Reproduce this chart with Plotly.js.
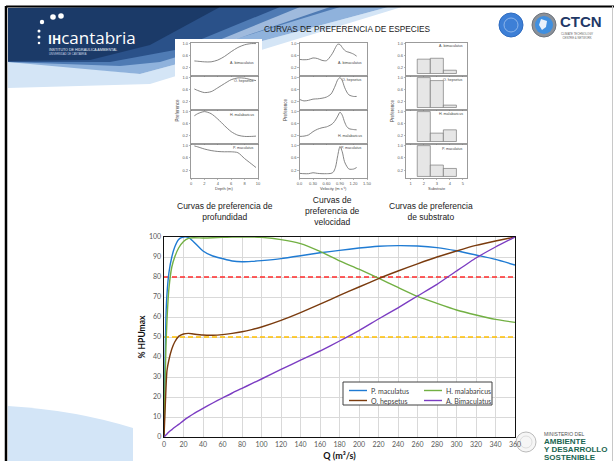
<!DOCTYPE html>
<html><head><meta charset="utf-8">
<script src="https://cdn.plot.ly/plotly-3.0.1.min.js"></script>
<style>html,body{margin:0;padding:0;background:#fff}#chart{width:614px;height:461px}</style>
</head><body><div id="chart"></div><script>
// ---------- main chart data ----------
const mainQ = [0,1,2,3,5,8,11,15,20,25,30,40,50,60,70,80,90,100,120,140,160,180,200,220,240,260,280,300,320,340,360];
const seriesNames = ['P. maculatus','H. malabaricus','O. hepsetus','A. Bimaculatus'];
const seriesColors = ['#1f7bd3','#72b043','#7a3b0e','#7b3cc2'];
const pMaculatus = [0,35,60,71,82,90,95,98.8,100,99.8,97.8,93,90.5,89.2,88,87.6,87.8,88.2,89.2,90.6,92.1,93.3,94.5,95.4,95.7,95.5,94.7,93.1,91,88.8,86];
const hMalabaricus = [0,25,45,58,74,85,90,94.5,97.8,99.3,99.6,99.5,99.6,99.8,100,100,100,99.8,98.7,96.7,92.8,88.1,83.9,79.4,74.8,70.3,66.8,63.5,61,58.8,57.3];
const oHepsetus = [0,12,24,33,38.5,44,47.5,50.3,51.5,51.8,51.5,51,50.9,51.2,51.8,52.6,53.7,55,58.3,62.2,66.4,70.8,75,79.2,83,86.6,90,93,95.8,98,100];
const aBimaculatus = [0,0.5,1,1.5,2.5,3.7,4.9,6.3,8.2,9.9,11.5,14.3,17,19.5,22,24.3,26.7,29,33.8,38.4,43,48,53.2,59,64.6,70.5,76.3,83,89.5,95,100];
const thresholdQ = [0,360];
const threshold80 = [80,80];
const threshold50 = [50,50];
const mainXTicks = [0,20,40,60,80,100,120,140,160,180,200,220,240,260,280,300,320,340,360];

// ---------- preference-curve panels data ----------
const panelSpecies = ['A. bimaculatus','O. hepsetus','H. malabaricus','P. maculatus'];
const depthX = [0.5,1,2,3,4,5,6,7,8,9,9.7];
const depthAbim = [0.42,0.41,0.39,0.39,0.45,0.57,0.73,0.87,0.96,1.0,1.0];
const depthOhep = [0.62,0.57,0.5,0.53,0.66,0.8,0.93,0.99,0.98,0.93,0.9];
const depthHmal = [0.86,0.93,1.0,0.93,0.75,0.53,0.33,0.21,0.17,0.17,0.18];
const depthPmac = [0.99,0.96,0.89,0.84,0.81,0.8,0.8,0.77,0.58,0.41,0.29];
const velX = [0,0.1,0.2,0.3,0.4,0.5,0.6,0.7,0.75,0.8,0.85,0.9,0.95,1.0,1.05,1.1,1.2,1.27];
const velAbim = [0.47,0.46,0.47,0.52,0.5,0.44,0.43,0.6,0.72,0.87,0.98,0.97,0.87,0.78,0.73,0.71,0.65,0.58];
const velOhep = [0.27,0.22,0.24,0.28,0.29,0.31,0.35,0.45,0.58,0.75,0.93,1.0,0.9,0.68,0.52,0.42,0.37,0.37];
const velHmal = [0.17,0.18,0.22,0.33,0.41,0.46,0.49,0.56,0.62,0.72,0.85,0.98,0.88,0.66,0.5,0.43,0.4,0.39];
const velPmac = [0.1,0.09,0.09,0.12,0.1,0.09,0.09,0.1,0.14,0.3,0.68,0.97,0.8,0.48,0.33,0.24,0.24,0.29];
const subX = [2,3,4];
const subAbim = [0.48,0.51,0.11];
const subOhep = [1.0,0.9,0.08];
const subHmal = [1.0,0.28,0.39];
const subPmac = [1.0,0.37,0.26];
const depthTicks = [0,2,4,6,8,10];
const velTicks = [0,0.3,0.6,0.9,1.2,1.5];
const velTickText = ['0.0','0.30','0.60','0.90','1.20','1.50'];
const subTicks = [1,2,3,4,5];
const prefTicks = [0.2,0.6,1.0];
const prefTickText = ['0.2','0.6','1.0'];

// ---------- helpers ----------
const W = 614, H = 461;
const px = x => x / W, py = y => 1 - y / H;
const pth = pts => pts.map((p,i)=>(i?'L':'M')+px(p[0]).toFixed(5)+','+py(p[1]).toFixed(5)).join(' ')+' Z';

const traces = [];
const mainData = [pMaculatus,hMalabaricus,oHepsetus,aBimaculatus];
traces.push({x:thresholdQ,y:threshold80,mode:'lines',line:{color:'#ff2b2b',width:1.5,dash:'5px,3px'},hoverinfo:'skip',showlegend:false});
traces.push({x:thresholdQ,y:threshold50,mode:'lines',line:{color:'#ffc000',width:1.5,dash:'5px,3px'},hoverinfo:'skip',showlegend:false});
mainData.forEach((d,i)=>traces.push({x:mainQ,y:d,name:seriesNames[i],mode:'lines',
  line:{color:seriesColors[i],width:1.4,shape:'spline',smoothing:0.5},showlegend:false}));

const layout = {
  width:W,height:H,margin:{l:0,r:0,t:0,b:0},paper_bgcolor:'#fff',plot_bgcolor:'rgba(0,0,0,0)',
  showlegend:false,font:{family:'Lato, "Liberation Sans", sans-serif'},
  xaxis:{domain:[px(164),px(515)],range:[0,360],tickvals:mainXTicks,showgrid:true,gridcolor:'#d9d9d9',gridwidth:1,
    showline:true,linecolor:'#111',linewidth:1.2,mirror:true,zeroline:false,ticks:'',
    tickfont:{size:7,color:'#595959'},anchor:'y',
    title:{text:'<b>Q (m³/s)</b>',font:{size:9,color:'#111'},standoff:8}},
  yaxis:{domain:[py(437),py(237)],range:[0,100],dtick:10,showgrid:true,gridcolor:'#d9d9d9',gridwidth:1,
    showline:true,linecolor:'#111',linewidth:1.4,mirror:true,zeroline:false,ticks:'',
    tickfont:{size:7,color:'#595959'},anchor:'x',
    title:{text:'<b>% HPUmax</b>',font:{size:8.5,color:'#111'},standoff:2}},
  shapes:[],annotations:[]
};

// ---------- slide decorations (drawn first, below everything) ----------
const S = layout.shapes;
const bg = (path,color,op) => S.push({type:'path',xref:'paper',yref:'paper',layer:'below',path:path,fillcolor:color,opacity:op||1,line:{width:0}});
// pale band under header
bg(pth([[8,60],[140,74],[392,6],[405,6],[150,84],[8,88]]),'#d4e5f6');
// header gradient pieces
bg(pth([[8,8],[392,6],[140,74],[8,62]]),'#8fb2dc');
bg(pth([[8,8],[340,7],[160,62],[120,66],[8,62]]),'#4f7bb4');
bg(pth([[8,8],[280,7],[175,50],[110,62],[8,62]]),'#2a5189');
bg(pth([[8,8],[220,7],[150,45],[90,60],[8,61]]),'#1b3a68');
bg(pth([[300,7],[330,7],[190,55],[175,58]]),'#c2d6ee',0.7);
// bottom-left swoosh
bg('M '+px(8)+','+py(406)+' Q '+px(75)+','+py(410)+' '+px(133)+','+py(428)+' L '+px(133)+','+py(461)+' L '+px(8)+','+py(461)+' Z','#d3e5f7');
// white backgrounds of the pasted figures
S.push({type:'rect',xref:'paper',yref:'paper',layer:'below',x0:px(175),x1:px(262),y0:py(190),y1:py(39),fillcolor:'#fff',line:{width:0}});
S.push({type:'rect',xref:'paper',yref:'paper',layer:'below',x0:px(133),x1:px(522),y0:py(461),y1:py(228),fillcolor:'#fff',line:{width:0}});
// ministry seal (below the chart text)
S.push({type:'circle',xref:'paper',yref:'paper',layer:'below',x0:px(516),x1:px(536),y0:py(452),y1:py(432),fillcolor:'#f6f6f6',line:{color:'#bbb',width:1}});
S.push({type:'circle',xref:'paper',yref:'paper',layer:'below',x0:px(520),x1:px(532),y0:py(448),y1:py(436),fillcolor:'rgba(0,0,0,0)',line:{color:'#ccc',width:0.6}});
// borders
S.push({type:'line',xref:'paper',yref:'paper',x0:px(6),x1:px(6),y0:py(6),y1:py(461),line:{color:'#000',width:2.5}});
S.push({type:'line',xref:'paper',yref:'paper',x0:px(6),x1:px(614),y0:py(6.5),y1:py(6.5),line:{color:'#000',width:2}});
S.push({type:'line',xref:'paper',yref:'paper',x0:px(612.5),x1:px(612.5),y0:py(6),y1:py(461),line:{color:'#c8c8c8',width:1}});

// panels
const colX = [[191,258],[299.5,367],[406,467]];
const rowY = [[43,75],[77,109],[111,143],[145,178]];
const colData = [[depthAbim,depthOhep,depthHmal,depthPmac],[velAbim,velOhep,velHmal,velPmac],[subAbim,subOhep,subHmal,subPmac]];
const colXs = [depthX,velX,subX];
const colRange = [[0,10],[0,1.5],[0.64,5.31]];
const colTicks = [[depthTicks,depthTicks.map(String)],[velTicks,velTickText],[subTicks,subTicks.map(String)]];
for(let c=0;c<3;c++){
  for(let r=0;r<4;r++){
    const idx = 2 + c*4 + r;
    layout['xaxis'+idx] = {domain:[px(colX[c][0]),px(colX[c][1])],anchor:'y'+idx,range:colRange[c],
      showline:true,mirror:true,linecolor:'#707070',linewidth:0.7,showgrid:false,zeroline:false,
      ticks:'outside',ticklen:1.5,tickwidth:0.5,tickcolor:'#707070',
      tickvals:colTicks[c][0],ticktext:colTicks[c][1],showticklabels:r===3,tickfont:{size:4,color:'#555',family:'Liberation Sans'}};
    layout['yaxis'+idx] = {domain:[py(rowY[r][1]),py(rowY[r][0])],anchor:'x'+idx,range:[-0.05,1.02],
      showline:true,mirror:true,linecolor:'#707070',linewidth:0.7,showgrid:false,zeroline:false,
      ticks:'outside',ticklen:1.5,tickwidth:0.5,tickcolor:'#707070',
      tickvals:prefTicks,ticktext:prefTickText,tickfont:{size:4,color:'#555',family:'Liberation Sans'}};
    if(c<2){
      traces.push({x:colXs[c],y:colData[c][r],xaxis:'x'+idx,yaxis:'y'+idx,mode:'lines',
        line:{color:'#777',width:0.9,shape:'spline',smoothing:0.8},hoverinfo:'skip',showlegend:false});
    } else {
      traces.push({type:'bar',x:colXs[c],y:colData[c][r],width:1,xaxis:'x'+idx,yaxis:'y'+idx,
        marker:{color:'#e6e6e6',line:{color:'#666',width:0.6}},hoverinfo:'skip',showlegend:false});
    }
  }
}

const A = (x,y,text,o={}) => layout.annotations.push(Object.assign({xref:'paper',yref:'paper',x:px(x),y:py(y),text:text,
  showarrow:false,xanchor:'center',yanchor:'middle',borderpad:0,font:{family:'Liberation Sans, Arial',size:8,color:'#222'}},o));

// panel labels
const labY = [[63,81,115,148],[63,80,136,148],[46,80,114,149]];
const labX = [255,363,464];
for(let c=0;c<3;c++) for(let r=0;r<4;r++)
  A(labX[c],labY[c][r],panelSpecies[r],{xanchor:'right',font:{family:'Liberation Sans',size:3.6,color:'#444'}});
A(177.5,110,'Preference',{textangle:-90,font:{family:'Liberation Sans',size:4.5,color:'#444'}});
A(286,110,'Preference',{textangle:-90,font:{family:'Liberation Sans',size:4.5,color:'#444'}});
A(393,110,'Preference',{textangle:-90,font:{family:'Liberation Sans',size:4.5,color:'#444'}});
A(223.5,188.5,'Depth (m)',{font:{family:'Liberation Sans',size:4,color:'#444'}});
A(333,188.5,'Velocity (m s⁻¹)',{font:{family:'Liberation Sans',size:4,color:'#444'}});
A(436.5,188.5,'Substrate',{font:{family:'Liberation Sans',size:4,color:'#444'}});

// captions
A(225,211.5,'Curvas de preferencia de<br>profundidad',{font:{family:'Liberation Sans',size:8.5,color:'#222'}});
A(332,211,'Curvas de<br>preferencia de<br>velocidad',{font:{family:'Liberation Sans',size:8.5,color:'#222'}});
A(431,211,'Curvas de preferencia<br>de substrato',{font:{family:'Liberation Sans',size:8.5,color:'#222'}});

// logo dots
[[42,22,2.2],[53,17,2.8],[61,16,2.8],[39,31,1.5],[39,37,1.5],[39,43,1.3]].forEach(d=>S.push({type:'circle',xref:'paper',yref:'paper',
  x0:px(d[0]-d[2]),x1:px(d[0]+d[2]),y0:py(d[1]+d[2]),y1:py(d[1]-d[2]),fillcolor:'#fff',line:{width:0}}));
A(47,38,'<span style="font-size:12px"><b>IH</b></span>cantabria',{xanchor:'left',font:{family:'Open Sans',size:17,color:'#fff'}});
A(48,50,'INSTITUTO DE HIDRÁULICA AMBIENTAL',{xanchor:'left',font:{family:'Liberation Sans',size:3.6,color:'#e8eef7'}});
A(48,54,'UNIVERSIDAD DE CANTABRIA',{xanchor:'left',font:{family:'Liberation Sans',size:2.6,color:'#c8d4e6'}});
// title
A(347,29,'CURVAS DE PREFERENCIA DE ESPECIES',{font:{family:'Liberation Sans',size:8.3,color:'#1a1a1a'}});
// CTCN logos
S.push({type:'circle',xref:'paper',yref:'paper',x0:px(499),x1:px(523),y0:py(37),y1:py(13),fillcolor:'#3d7fd6',line:{color:'#2f6cc0',width:1}});
S.push({type:'circle',xref:'paper',yref:'paper',x0:px(504),x1:px(518),y0:py(32),y1:py(18),fillcolor:'rgba(0,0,0,0)',line:{color:'#9fc2ee',width:0.8}});
S.push({type:'circle',xref:'paper',yref:'paper',x0:px(532),x1:px(556),y0:py(37),y1:py(13),fillcolor:'#8a9099',line:{color:'#6d737b',width:1}});
S.push({type:'circle',xref:'paper',yref:'paper',x0:px(535),x1:px(553),y0:py(34),y1:py(16),fillcolor:'#3f8fe0',line:{width:0}});
S.push({type:'path',xref:'paper',yref:'paper',path:pth([[541,19],[547,21],[546,27],[542,30],[539,25]]),fillcolor:'#e8f1fb',line:{width:0}});
A(559,21.5,'<b>CTCN</b>',{xanchor:'left',font:{family:'Liberation Sans',size:15,color:'#1f3866'}});
A(560,36,'CLIMATE TECHNOLOGY<br>CENTRE & NETWORK',{xanchor:'left',font:{family:'Liberation Sans',size:2.8,color:'#666'}});
// ministry text
A(543,434,'MINISTERIO DEL',{xanchor:'left',font:{family:'Liberation Sans',size:5,color:'#555'}});
A(543,441.5,'<b>AMBIENTE</b>',{xanchor:'left',font:{family:'Liberation Sans',size:8,color:'#1a6652'}});
A(543,449.5,'<b>Y DESARROLLO</b>',{xanchor:'left',font:{family:'Liberation Sans',size:8,color:'#1a6652'}});
A(543,457.5,'<b>SOSTENIBLE</b>',{xanchor:'left',font:{family:'Liberation Sans',size:8,color:'#1a6652'}});

// ---------- legend (built from the series names/colours) ----------
S.push({type:'rect',xref:'paper',yref:'paper',layer:'above',x0:px(343),x1:px(492),y0:py(405),y1:py(382),fillcolor:'#fff',line:{color:'#404040',width:1}});
const legPos = [[349,390.5],[424,390.5],[349,400.5],[424,400.5]];
[0,1,2,3].forEach((s,k)=>{
  const p = legPos[k];
  S.push({type:'line',xref:'paper',yref:'paper',layer:'above',x0:px(p[0]),x1:px(p[0]+18),y0:py(p[1]),y1:py(p[1]),line:{color:seriesColors[s],width:1.4}});
  A(p[0]+21,p[1],seriesNames[s],{xanchor:'left',font:{family:'Lato, Liberation Sans',size:7,color:'#404040'}});
});

Plotly.newPlot('chart',traces,layout,{staticPlot:true,displayModeBar:false});
</script></body></html>
